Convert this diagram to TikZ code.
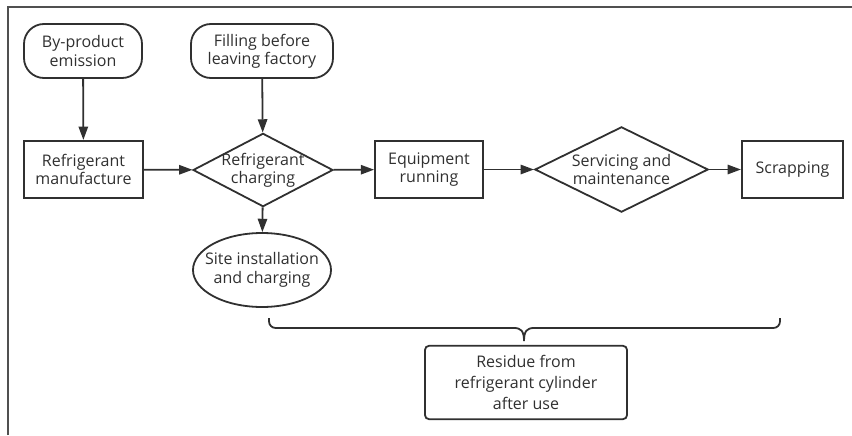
\documentclass[tikz,border=0pt]{standalone}
\usepackage{xcolor}
\usepackage{fontspec}
\setmainfont{Open Sans}
\usetikzlibrary{shapes.geometric,arrows.meta}
\definecolor{inkgray}{HTML}{303030}
\definecolor{framegray}{HTML}{505050}

\begin{document}
\begin{tikzpicture}[
        x=0.75pt, y=-0.75pt,
        font=\fontsize{12}{13.8}\selectfont,
        every node/.style={align=center, inner sep=0pt, text=inkgray},
        line/.style={draw=inkgray, line width=1.35pt},
        flow/.style={line, -{Triangle[length=10pt,width=7pt]}},
        startbox/.style={line, rounded corners=15pt, minimum width=88.5pt, minimum height=40.5pt},
        procbox/.style={line, minimum width=89pt, minimum height=43pt},
        choice/.style={line, diamond, minimum width=105pt, minimum height=55pt},
        roundbox/.style={line, ellipse, minimum width=103.5pt, minimum height=55.5pt},
        notebox/.style={line, rounded corners=3pt, minimum width=151.5pt, minimum height=55pt,
            font=\fontsize{12}{15.5}\selectfont}
    ]
    \useasboundingbox (0,0) rectangle (852,435);
    % frame
    \draw[framegray, line width=0.8pt] (8,435) -- (8,7) -- (852,7);

    % nodes
    \node[startbox] (byprod) at (83,51) {By-product\\emission};
    \node[startbox, minimum width=106.5pt] (filling) at (262,51) {Filling before\\leaving factory};
    \node[procbox] (manuf) at (83.5,169.5) {Refrigerant\\manufacture};
    \node[choice, label={[align=center]center:{Refrigerant\\charging}}] (charging) at (263,170) {};
    \node[procbox, minimum width=81pt] (running) at (429,169.5) {Equipment\\running};
    \node[choice, minimum width=130pt, minimum height=64pt,
        label={[align=center]center:{Servicing and\\maintenance}}] (servicing) at (621.5,169.5) {};
    \node[procbox, minimum width=76pt] (scrapping) at (792.5,169.5) {Scrapping};
    \node[roundbox, label={[align=center]center:{Site installation\\and charging}}] (site) at (262,270) {};
    \node[notebox] (residue) at (526,382.5) {Residue from\\refrigerant cylinder\\after use};

    % arrows
    \draw[flow] (byprod) -- (manuf);
    \draw[flow] (filling) -- (charging);
    \draw[flow] (manuf) -- (charging);
    \draw[flow] (charging) -- (running);
    \draw[flow] (running) -- (servicing);
    \draw[flow] (servicing) -- (scrapping);
    \draw[flow] (charging) -- (site);

    % brace
    \coordinate (braceL) at (269,318);
    \coordinate (braceR) at (780,318);
    \coordinate (braceTip) at (524,341);
    \draw[line, rounded corners=5pt] (braceL) |- (514,328);
    \draw[line] (514,328) .. controls (521,328) and (524,331) .. (braceTip)
        .. controls (524,331) and (527,328) .. (534,328);
    \draw[line, rounded corners=5pt] (534,328) -| (braceR);
\end{tikzpicture}
\end{document}
